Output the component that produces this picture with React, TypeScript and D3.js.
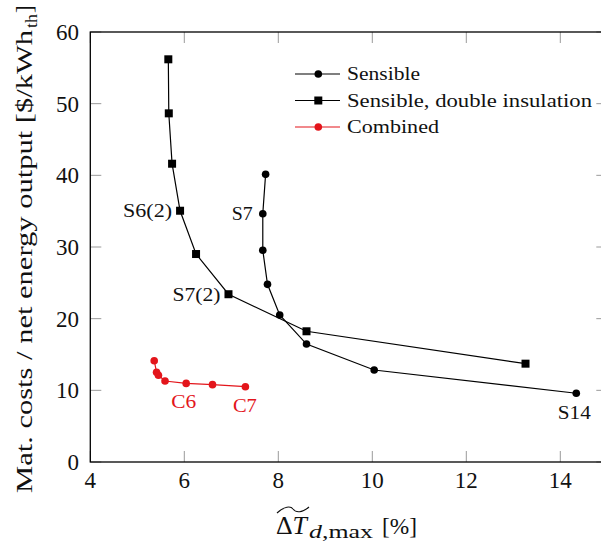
import React from "react";
import * as d3 from "d3";

// Sensible storage (S-series)
const sensibleX = [7.73, 7.67, 7.67, 7.77, 8.03, 8.6, 10.04, 14.34];
const sensibleY = [40.14, 34.65, 29.54, 24.79, 20.51, 16.46, 12.84, 9.59];

// Sensible storage with double insulation
const doubleX = [5.66, 5.67, 5.74, 5.91, 6.25, 6.94, 8.6, 13.26];
const doubleY = [56.19, 48.65, 41.62, 35.06, 29.02, 23.41, 18.24, 13.72];

// Combined storage (C-series)
const combinedX = [5.36, 5.41, 5.45, 5.59, 6.04, 6.6, 7.3];
const combinedY = [14.13, 12.52, 12.1, 11.3, 10.97, 10.79, 10.51];

const xTicks = [4, 6, 8, 10, 12, 14];
const yTicks = [0, 10, 20, 30, 40, 50, 60];

const legendLabels = ["Sensible", "Sensible, double insulation", "Combined"];

const W = 601;
const H = 546;
const FONT = '"Liberation Serif", "Times New Roman", Tinos, "DejaVu Serif", serif';
const RED = "#e3151b";

export default function App() {
  const x = d3.scaleLinear().domain([4, 15]).range([90.3, 607.3]);
  const y = d3.scaleLinear().domain([0, 60]).range([462, 32]);
  const [x0, x1] = x.range();
  const [yb, yt] = y.range();

  const line = d3
    .line<[number, number]>()
    .x((d) => x(d[0]))
    .y((d) => y(d[1]));

  const pts = (xs: number[], ys: number[]) =>
    xs.map((v, i) => [v, ys[i]] as [number, number]);

  const sensible = pts(sensibleX, sensibleY);
  const dbl = pts(doubleX, doubleY);
  const comb = pts(combinedX, combinedY);

  const tickLen = 11;
  const tickColor = "#9a9a9a";

  const legendRows = [74, 100.5, 127];
  const legendWidths = [73, 245, 92];
  const ts = { fontFamily: FONT };
  const fit = "spacingAndGlyphs";

  return (
    <svg
      width={W}
      height={H}
      style={{ position: "absolute", left: 0, top: 0, background: "#fff", fontFamily: FONT }}
    >
      {/* ticks */}
      {xTicks.map((t) => (
        <g key={"xt" + t}>
          <line x1={x(t)} x2={x(t)} y1={yb} y2={yb - tickLen} stroke={tickColor} strokeWidth={1} />
          <line x1={x(t)} x2={x(t)} y1={yt} y2={yt + tickLen} stroke={tickColor} strokeWidth={1} />
          <text x={x(t)} y={488} fontSize={23} textAnchor="middle" fill="#111" style={ts}>
            {t}
          </text>
        </g>
      ))}
      {yTicks.map((t) => (
        <g key={"yt" + t}>
          <line x1={x0} x2={x0 + tickLen} y1={y(t)} y2={y(t)} stroke={tickColor} strokeWidth={1} />
          <line x1={x1} x2={x1 - tickLen} y1={y(t)} y2={y(t)} stroke={tickColor} strokeWidth={1} />
          <text x={79} y={y(t) + 8} fontSize={23} textAnchor="end" fill="#111" style={ts}>
            {t}
          </text>
        </g>
      ))}

      {/* axis frame */}
      <rect x={x0} y={yt} width={x1 - x0} height={yb - yt} fill="none" stroke="#000" strokeWidth={1.3} />

      {/* series lines */}
      <path d={line(sensible) || ""} fill="none" stroke="#000" strokeWidth={1.2} />
      <path d={line(dbl) || ""} fill="none" stroke="#000" strokeWidth={1.2} />
      <path d={line(comb) || ""} fill="none" stroke={RED} strokeWidth={1.2} />

      {/* markers */}
      {sensible.map((d, i) => (
        <circle key={"s" + i} cx={x(d[0])} cy={y(d[1])} r={3.8} fill="#000" />
      ))}
      {dbl.map((d, i) => (
        <rect key={"d" + i} x={x(d[0]) - 4} y={y(d[1]) - 4} width={8} height={8} fill="#000" />
      ))}
      {comb.map((d, i) => (
        <circle key={"c" + i} cx={x(d[0])} cy={y(d[1])} r={3.8} fill={RED} />
      ))}

      {/* point annotations */}
      <text x={x(doubleX[3]) - 57} y={y(doubleY[3]) + 6} fontSize={18} textLength={49} lengthAdjust={fit} fill="#111" style={ts}>
        S6(2)
      </text>
      <text x={x(sensibleX[1]) - 31} y={y(sensibleY[1]) + 6} fontSize={18} textLength={21} lengthAdjust={fit} fill="#111" style={ts}>
        S7
      </text>
      <text x={x(doubleX[5]) - 56} y={y(doubleY[5]) + 7} fontSize={18} textLength={48} lengthAdjust={fit} fill="#111" style={ts}>
        S7(2)
      </text>
      <text x={x(sensibleX[7]) - 18.5} y={y(sensibleY[7]) + 26} fontSize={18} textLength={33} lengthAdjust={fit} fill="#111" style={ts}>
        S14
      </text>
      <text x={x(combinedX[4]) - 15} y={y(combinedY[4]) + 25} fontSize={18} textLength={25} lengthAdjust={fit} fill={RED} style={ts}>
        C6
      </text>
      <text x={x(combinedX[6]) - 12.5} y={y(combinedY[6]) + 25} fontSize={18} textLength={24} lengthAdjust={fit} fill={RED} style={ts}>
        C7
      </text>

      {/* legend */}
      {legendLabels.map((lab, i) => {
        const ly = legendRows[i];
        const col = i === 2 ? RED : "#000";
        return (
          <g key={"lg" + i}>
            <line x1={295} x2={340} y1={ly} y2={ly} stroke={col} strokeWidth={1.2} />
            {i === 1 ? (
              <rect x={314.3} y={ly - 4} width={8} height={8} fill={col} />
            ) : (
              <circle cx={318.3} cy={ly} r={3.8} fill={col} />
            )}
            <text x={347} y={ly + 6} fontSize={18} textLength={legendWidths[i]} lengthAdjust={fit} fill="#111" style={ts}>
              {lab}
            </text>
          </g>
        );
      })}

      {/* x-axis label: wide tilde over ΔT, subscript d,max */}
      <path
        d="M277,513 C284,506 291,506 293,509 C296,513 302,513 309,507"
        fill="none"
        stroke="#111"
        strokeWidth={1.1}
      />
      <text x={276} y={534} fontSize={25} textLength={31} lengthAdjust={fit} fill="#111" style={ts}>
        Δ<tspan fontStyle="italic">T</tspan>
      </text>
      <text x={309} y={538} fontSize={18} textLength={64} lengthAdjust={fit} fill="#111" style={ts}>
        <tspan fontStyle="italic">d</tspan>,max
      </text>
      <text x={382} y={534} fontSize={24} textLength={35} lengthAdjust={fit} fill="#111" style={ts}>
        [%]
      </text>

      {/* y-axis label */}
      <g transform="translate(32,249) rotate(-90)">
        <text x={-244} y={0} fontSize={23} textLength={463} lengthAdjust={fit} fill="#111" style={ts}>
          Mat. costs / net energy output [$/kWh
        </text>
        <text x={221} y={5} fontSize={16} textLength={14} lengthAdjust={fit} fill="#111" style={ts}>
          th
        </text>
        <text x={236} y={0} fontSize={23} fill="#111" style={ts}>
          ]
        </text>
      </g>
    </svg>
  );
}
